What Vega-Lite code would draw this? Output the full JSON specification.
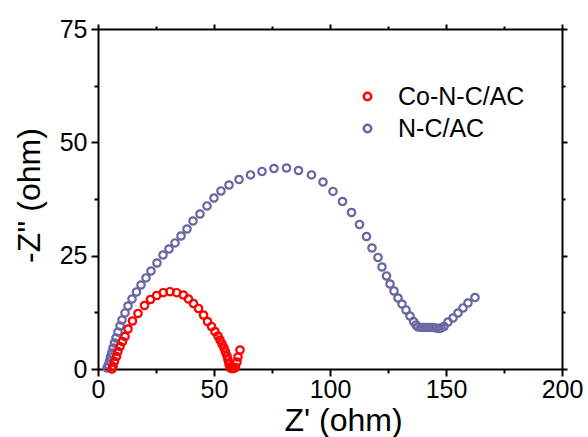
{
  "$schema": "https://vega.github.io/schema/vega-lite/v6.json",
  "width": 464,
  "height": 340,
  "autosize": "none",
  "padding": {"left": 98, "top": 29, "right": 26, "bottom": 68},
  "background": "white",
  "config": {
    "view": {"stroke": null},
    "font": "Liberation Sans",
    "axis": {
      "domainColor": "black",
      "domainWidth": 2,
      "tickColor": "black",
      "tickWidth": 2,
      "grid": false,
      "labelFont": "Liberation Sans",
      "labelFontSize": 25,
      "labelColor": "black",
      "labelFlush": false,
      "titleFont": "Liberation Sans",
      "titleFontSize": 32,
      "titleFontWeight": "normal",
      "titleColor": "black",
      "labelOverlap": false
    },
    "legend": {
      "labelFont": "Liberation Sans",
      "labelFontSize": 25,
      "labelColor": "black"
    }
  },
  "datasets": {
    "eis": [
      {"sample": "N-C/AC", "zr": 3.88, "zi": 0.22},
      {"sample": "N-C/AC", "zr": 4.44, "zi": 0.88},
      {"sample": "N-C/AC", "zr": 4.96, "zi": 1.76},
      {"sample": "N-C/AC", "zr": 5.39, "zi": 2.65},
      {"sample": "N-C/AC", "zr": 5.91, "zi": 3.53},
      {"sample": "N-C/AC", "zr": 6.47, "zi": 4.63},
      {"sample": "N-C/AC", "zr": 7.11, "zi": 5.74},
      {"sample": "N-C/AC", "zr": 7.76, "zi": 6.84},
      {"sample": "N-C/AC", "zr": 8.62, "zi": 8.16},
      {"sample": "N-C/AC", "zr": 9.48, "zi": 9.49},
      {"sample": "N-C/AC", "zr": 10.34, "zi": 10.81},
      {"sample": "N-C/AC", "zr": 11.64, "zi": 12.36},
      {"sample": "N-C/AC", "zr": 12.93, "zi": 13.9},
      {"sample": "N-C/AC", "zr": 14.66, "zi": 15.44},
      {"sample": "N-C/AC", "zr": 16.59, "zi": 16.99},
      {"sample": "N-C/AC", "zr": 18.53, "zi": 18.53},
      {"sample": "N-C/AC", "zr": 20.69, "zi": 20.08},
      {"sample": "N-C/AC", "zr": 22.84, "zi": 21.62},
      {"sample": "N-C/AC", "zr": 25.43, "zi": 23.38},
      {"sample": "N-C/AC", "zr": 28.02, "zi": 25.15},
      {"sample": "N-C/AC", "zr": 30.6, "zi": 26.47},
      {"sample": "N-C/AC", "zr": 33.19, "zi": 27.8},
      {"sample": "N-C/AC", "zr": 35.78, "zi": 29.34},
      {"sample": "N-C/AC", "zr": 38.36, "zi": 30.88},
      {"sample": "N-C/AC", "zr": 40.95, "zi": 32.65},
      {"sample": "N-C/AC", "zr": 43.97, "zi": 34.19},
      {"sample": "N-C/AC", "zr": 46.98, "zi": 35.96},
      {"sample": "N-C/AC", "zr": 50.0, "zi": 37.72},
      {"sample": "N-C/AC", "zr": 53.02, "zi": 39.27},
      {"sample": "N-C/AC", "zr": 56.47, "zi": 40.59},
      {"sample": "N-C/AC", "zr": 60.78, "zi": 41.8},
      {"sample": "N-C/AC", "zr": 65.73, "zi": 42.8},
      {"sample": "N-C/AC", "zr": 70.69, "zi": 43.57},
      {"sample": "N-C/AC", "zr": 75.86, "zi": 44.23},
      {"sample": "N-C/AC", "zr": 81.25, "zi": 44.34},
      {"sample": "N-C/AC", "zr": 86.42, "zi": 43.79},
      {"sample": "N-C/AC", "zr": 92.03, "zi": 42.8},
      {"sample": "N-C/AC", "zr": 96.98, "zi": 41.25},
      {"sample": "N-C/AC", "zr": 101.29, "zi": 39.16},
      {"sample": "N-C/AC", "zr": 105.39, "zi": 36.95},
      {"sample": "N-C/AC", "zr": 109.27, "zi": 34.52},
      {"sample": "N-C/AC", "zr": 112.72, "zi": 31.88},
      {"sample": "N-C/AC", "zr": 115.73, "zi": 29.23},
      {"sample": "N-C/AC", "zr": 118.1, "zi": 26.69},
      {"sample": "N-C/AC", "zr": 120.69, "zi": 24.6},
      {"sample": "N-C/AC", "zr": 122.41, "zi": 22.5},
      {"sample": "N-C/AC", "zr": 124.35, "zi": 20.52},
      {"sample": "N-C/AC", "zr": 125.86, "zi": 18.75},
      {"sample": "N-C/AC", "zr": 127.59, "zi": 17.21},
      {"sample": "N-C/AC", "zr": 129.31, "zi": 15.66},
      {"sample": "N-C/AC", "zr": 131.03, "zi": 14.34},
      {"sample": "N-C/AC", "zr": 132.76, "zi": 13.02},
      {"sample": "N-C/AC", "zr": 134.48, "zi": 11.69},
      {"sample": "N-C/AC", "zr": 136.0, "zi": 10.48},
      {"sample": "N-C/AC", "zr": 137.07, "zi": 9.71},
      {"sample": "N-C/AC", "zr": 137.93, "zi": 9.27},
      {"sample": "N-C/AC", "zr": 139.22, "zi": 9.16},
      {"sample": "N-C/AC", "zr": 140.52, "zi": 9.16},
      {"sample": "N-C/AC", "zr": 141.81, "zi": 9.16},
      {"sample": "N-C/AC", "zr": 143.1, "zi": 9.16},
      {"sample": "N-C/AC", "zr": 144.4, "zi": 9.16},
      {"sample": "N-C/AC", "zr": 145.69, "zi": 9.04},
      {"sample": "N-C/AC", "zr": 146.98, "zi": 8.93},
      {"sample": "N-C/AC", "zr": 147.84, "zi": 9.04},
      {"sample": "N-C/AC", "zr": 149.14, "zi": 9.38},
      {"sample": "N-C/AC", "zr": 150.86, "zi": 10.37},
      {"sample": "N-C/AC", "zr": 153.02, "zi": 11.25},
      {"sample": "N-C/AC", "zr": 155.17, "zi": 12.35},
      {"sample": "N-C/AC", "zr": 157.33, "zi": 13.46},
      {"sample": "N-C/AC", "zr": 159.48, "zi": 14.56},
      {"sample": "N-C/AC", "zr": 162.5, "zi": 15.77},
      {"sample": "Co-N-C/AC", "zr": 6.03, "zi": 0.0},
      {"sample": "Co-N-C/AC", "zr": 6.47, "zi": 0.55},
      {"sample": "Co-N-C/AC", "zr": 7.11, "zi": 1.65},
      {"sample": "Co-N-C/AC", "zr": 7.97, "zi": 2.76},
      {"sample": "Co-N-C/AC", "zr": 8.62, "zi": 3.86},
      {"sample": "Co-N-C/AC", "zr": 9.48, "zi": 4.96},
      {"sample": "Co-N-C/AC", "zr": 10.56, "zi": 6.07},
      {"sample": "Co-N-C/AC", "zr": 11.64, "zi": 7.17},
      {"sample": "Co-N-C/AC", "zr": 12.93, "zi": 8.82},
      {"sample": "Co-N-C/AC", "zr": 14.87, "zi": 10.59},
      {"sample": "Co-N-C/AC", "zr": 17.24, "zi": 12.24},
      {"sample": "Co-N-C/AC", "zr": 20.04, "zi": 14.01},
      {"sample": "Co-N-C/AC", "zr": 22.63, "zi": 15.33},
      {"sample": "Co-N-C/AC", "zr": 25.3, "zi": 16.21},
      {"sample": "Co-N-C/AC", "zr": 28.15, "zi": 16.83},
      {"sample": "Co-N-C/AC", "zr": 31.03, "zi": 17.05},
      {"sample": "Co-N-C/AC", "zr": 33.92, "zi": 16.83},
      {"sample": "Co-N-C/AC", "zr": 36.77, "zi": 16.32},
      {"sample": "Co-N-C/AC", "zr": 39.01, "zi": 15.44},
      {"sample": "Co-N-C/AC", "zr": 41.16, "zi": 14.45},
      {"sample": "Co-N-C/AC", "zr": 43.32, "zi": 13.35},
      {"sample": "Co-N-C/AC", "zr": 45.47, "zi": 11.91},
      {"sample": "Co-N-C/AC", "zr": 47.2, "zi": 10.48},
      {"sample": "Co-N-C/AC", "zr": 48.92, "zi": 9.38},
      {"sample": "Co-N-C/AC", "zr": 50.43, "zi": 8.27},
      {"sample": "Co-N-C/AC", "zr": 51.72, "zi": 7.28},
      {"sample": "Co-N-C/AC", "zr": 52.59, "zi": 6.4},
      {"sample": "Co-N-C/AC", "zr": 53.45, "zi": 5.52},
      {"sample": "Co-N-C/AC", "zr": 54.31, "zi": 4.63},
      {"sample": "Co-N-C/AC", "zr": 54.96, "zi": 3.75},
      {"sample": "Co-N-C/AC", "zr": 55.6, "zi": 2.87},
      {"sample": "Co-N-C/AC", "zr": 56.03, "zi": 1.99},
      {"sample": "Co-N-C/AC", "zr": 56.47, "zi": 1.1},
      {"sample": "Co-N-C/AC", "zr": 56.9, "zi": 0.33},
      {"sample": "Co-N-C/AC", "zr": 57.54, "zi": 0.11},
      {"sample": "Co-N-C/AC", "zr": 58.41, "zi": 0.11},
      {"sample": "Co-N-C/AC", "zr": 59.27, "zi": 0.33},
      {"sample": "Co-N-C/AC", "zr": 59.91, "zi": 1.54},
      {"sample": "Co-N-C/AC", "zr": 60.34, "zi": 2.65},
      {"sample": "Co-N-C/AC", "zr": 61.21, "zi": 4.19}
    ]
  },
  "data": {"name": "eis"},
  "layer": [
    {
      "mark": {"type": "point", "filled": false, "strokeWidth": 2.2, "size": 55, "opacity": 1},
      "encoding": {
        "x": {
          "field": "zr", "type": "quantitative",
          "scale": {"domain": [0, 200], "nice": false, "zero": false},
          "axis": {
            "orient": "bottom",
            "title": "Z' (ohm)",
            "values": [0, 25, 50, 75, 100, 125, 150, 175, 200],
            "labelExpr": "datum.value % 50 === 0 ? datum.label : ''",
            "tickSize": {"condition": {"test": "datum.value % 50 === 0", "value": 7}, "value": 4},
            "labelPadding": 1,
            "titleX": 245,
            "titleY": 61,
            "titleAlign": "center",
            "titleBaseline": "alphabetic"
          }
        },
        "y": {
          "field": "zi", "type": "quantitative",
          "scale": {"domain": [0, 75], "nice": false, "zero": false},
          "axis": {
            "orient": "left",
            "title": "-Z'' (ohm)",
            "values": [0, 12.5, 25, 37.5, 50, 62.5, 75],
            "labelExpr": "datum.value % 25 === 0 ? datum.label : ''",
            "tickSize": {"condition": {"test": "datum.value % 25 === 0", "value": 7}, "value": 4},
            "labelPadding": 4,
            "titleX": -59,
            "titleY": 166,
            "titleAngle": -90,
            "titleAlign": "center",
            "titleBaseline": "alphabetic"
          }
        },
        "color": {
          "field": "sample", "type": "nominal",
          "scale": {"domain": ["Co-N-C/AC", "N-C/AC"], "range": ["#ff0000", "#6767a4"]},
          "legend": {
            "title": null,
            "orient": "none",
            "legendX": 257,
            "legendY": 55,
            "padding": 0,
            "symbolType": "circle",
            "symbolSize": 55,
            "symbolStrokeWidth": 2.5,
            "symbolFillColor": "transparent",
            "labelOffset": 18,
            "rowPadding": 6
          }
        }
      }
    },
    {
      "mark": {"type": "point", "opacity": 0, "size": 0},
      "encoding": {
        "x": {
          "field": "zr", "type": "quantitative",
          "scale": {"domain": [0, 200], "nice": false, "zero": false},
          "axis": {
            "orient": "top", "title": null, "labels": false,
            "values": [0, 25, 50, 75, 100, 125, 150, 175, 200],
            "tickSize": {"condition": {"test": "datum.value % 50 === 0", "value": 5}, "value": 3}
          }
        },
        "y": {
          "field": "zi", "type": "quantitative",
          "scale": {"domain": [0, 75], "nice": false, "zero": false},
          "axis": {
            "orient": "right", "title": null, "labels": false,
            "values": [0, 12.5, 25, 37.5, 50, 62.5, 75],
            "tickSize": {"condition": {"test": "datum.value % 25 === 0", "value": 5}, "value": 3}
          }
        }
      }
    }
  ],
  "resolve": {"axis": {"x": "independent", "y": "independent"}}
}
